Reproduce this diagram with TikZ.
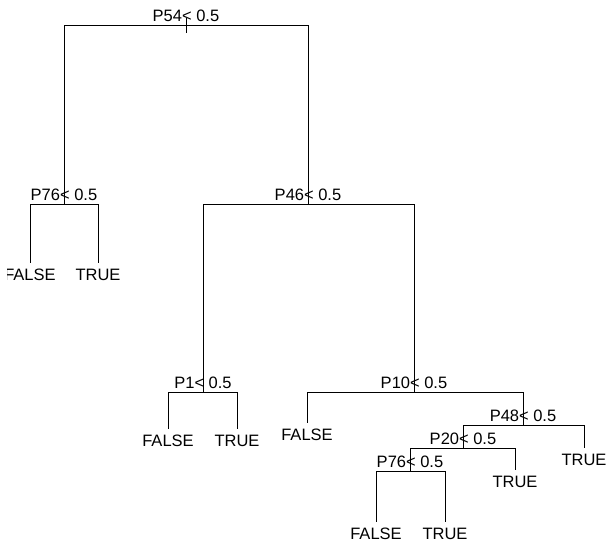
\documentclass[tikz,border=0pt]{standalone}
\usepackage{fontspec}
\setmainfont{Liberation Sans}
\begin{document}
\begin{tikzpicture}[x=1pt,y=-1pt,
  edge/.style={draw=black,line width=0.9pt},
  splitlab/.style={anchor=base,inner sep=0pt,font=\fontsize{16.5}{18}\selectfont},
  leaflab/.style={anchor=base,inner sep=0pt,font=\fontsize{16.5}{18}\selectfont}]
\useasboundingbox (0,0) rectangle (607,541);
% split nodes (at their horizontal bar) and leaf ends
\coordinate (root) at (186,25);
\coordinate (sA) at (64,204);
\coordinate (sB) at (308,204);
\coordinate (sC) at (203,392);
\coordinate (sD) at (414,392);
\coordinate (sE) at (523,425);
\coordinate (sF) at (463,448);
\coordinate (sG) at (410,471);
\coordinate (lA1) at (30,263);
\coordinate (lA2) at (98,263);
\coordinate (lC1) at (168,429);
\coordinate (lC2) at (237,429);
\coordinate (lD1) at (307,423);
\coordinate (lE2) at (584,448);
\coordinate (lF2) at (515,470);
\coordinate (lG1) at (376,522);
\coordinate (lG2) at (445,522);
% branches
\draw[edge] ([yshift=7pt]root) -- ([yshift=-8pt]root);
\foreach \p/\c in {root/sA,root/sB,sA/lA1,sA/lA2,sB/sC,sB/sD,sC/lC1,sC/lC2,
                   sD/lD1,sD/sE,sE/sF,sE/lE2,sF/sG,sF/lF2,sG/lG1,sG/lG2}
  \draw[edge] (\p) -| (\c);
% split labels
\node[splitlab] (tRoot) at ([yshift=4pt]root) {P54< 0.5};
\node[splitlab] (tA) at ([yshift=4pt]sA) {P76< 0.5};
\node[splitlab] (tB) at ([yshift=4pt]sB) {P46< 0.5};
\node[splitlab] (tC) at ([yshift=4pt]sC) {P1< 0.5};
\node[splitlab] (tD) at ([yshift=4pt]sD) {P10< 0.5};
\node[splitlab] (tE) at ([yshift=4pt]sE) {P48< 0.5};
\node[splitlab] (tF) at ([yshift=4pt]sF) {P20< 0.5};
\node[splitlab] (tG) at ([yshift=4pt]sG) {P76< 0.5};
% leaf labels (the leftmost one runs past the plot edge)
\begin{scope}
\clip (7.5,0) rectangle (607,541);
\node[leaflab] (vA1) at ([yshift=-17pt]lA1) {FALSE};
\end{scope}
\node[leaflab] (vA2) at ([yshift=-17pt]lA2) {TRUE};
\node[leaflab] (vC1) at ([yshift=-17pt]lC1) {FALSE};
\node[leaflab] (vC2) at ([yshift=-17pt]lC2) {TRUE};
\node[leaflab] (vD1) at ([yshift=-17pt]lD1) {FALSE};
\node[leaflab] (vE2) at ([yshift=-17pt]lE2) {TRUE};
\node[leaflab] (vF2) at ([yshift=-17pt]lF2) {TRUE};
\node[leaflab] (vG1) at ([yshift=-17pt]lG1) {FALSE};
\node[leaflab] (vG2) at ([yshift=-17pt]lG2) {TRUE};
\end{tikzpicture}
\end{document}
